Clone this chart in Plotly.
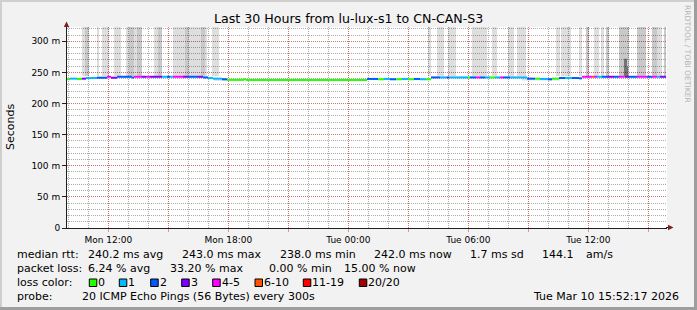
import pandas as pd
import plotly.graph_objects as go

# ---------------- data ----------------
T0 = pd.Timestamp("2026-03-09 09:56")   # left edge of the graph
SPAN_H = 30                               # "Last 30 Hours"

# median RTT segments: end minute (offset from T0), median (ms), loss class index
seg_end = [9, 30, 45, 57, 90, 120, 132, 150, 195, 201, 225, 237, 249, 285, 300, 309, 318,
           348, 363, 393, 408, 423, 438, 465, 480, 531, 537, 900, 933, 951, 969, 987, 1005,
           1023, 1041, 1059, 1077, 1092, 1119, 1140, 1146, 1203, 1209, 1227, 1239, 1254,
           1269, 1284, 1299, 1308, 1329, 1380, 1404, 1419, 1443, 1455, 1476, 1494, 1515,
           1536, 1545, 1575, 1581, 1590, 1605, 1620, 1641, 1656, 1671, 1674, 1686, 1710,
           1740, 1755, 1770, 1779, 1797]
seg_val = [239.0, 240.0, 239.5, 240.0, 241.0, 241.5, 243.0, 241.5, 243.0, 242.0, 243.0, 243.0,
           243.0, 243.0, 243.0, 243.0, 243.0, 243.0, 243.0, 243.0, 243.0, 242.0, 241.0, 240.0,
           239.0, 238.0, 239.0, 238.0, 239.5, 239.0, 239.5, 239.0, 239.0, 239.5, 239.0, 239.5,
           239.0, 239.0, 242.0, 242.0, 242.0, 242.0, 242.0, 242.0, 242.0, 242.0, 242.0, 242.0,
           242.0, 242.0, 242.0, 242.0, 240.0, 240.0, 239.5, 239.0, 240.0, 241.0, 241.0, 241.0,
           240.5, 243.0, 243.0, 243.0, 243.0, 243.0, 243.0, 243.0, 243.0, 243.0, 243.0, 243.0,
           243.0, 243.0, 243.0, 243.0, 243.0]
seg_loss = [0, 1, 0, 3, 1, 2, 4, 3, 2, 2, 4, 3, 4, 3, 1, 2, 1, 4, 3, 2, 3, 2, 1, 1, 2, 0, 0,
            0, 2, 0, 1, 2, 0, 1, 0, 2, 1, 0, 2, 1, 3, 1, 0, 2, 4, 2, 1, 0, 1, 4, 2, 1, 2, 0,
            1, 2, 0, 2, 1, 2, 2, 4, 5, 4, 1, 2, 3, 2, 4, 5, 3, 2, 4, 2, 4, 1, 3]

# smoke (spread of individual pings): start/end minute, low/high ms, density level
smoke_start = [45, 54, 90, 105, 141, 177, 186, 201, 210, 261, 273, 318, 354, 366, 402, 414,
               435, 1083, 1110, 1143, 1215, 1275, 1323, 1350, 1467, 1482, 1536, 1557, 1581,
               1602, 1617, 1656, 1710, 1755, 1770, 1791, 1671, 1680, 441, 1365]
smoke_end = [54, 66, 96, 126, 162, 186, 201, 210, 225, 273, 285, 354, 366, 402, 414, 420,
             456, 1092, 1131, 1167, 1260, 1290, 1341, 1377, 1479, 1512, 1545, 1566, 1596,
             1611, 1626, 1686, 1737, 1770, 1785, 1797, 1680, 1683, 483, 1479]
smoke_lo = [244] * 36 + [244, 244, 236.5, 237.0]
smoke_hi = [400] * 36 + [272, 259, 240.5, 240.0]
smoke_level = [1, 2, 1, 1, 1, 1, 2, 1, 2, 1, 2, 1, 2, 1, 2, 1, 1, 1, 1, 1, 1, 1, 1, 1, 1,
               1, 1, 2, 1, 1, 2, 2, 2, 2, 1, 2, 3, 3, 1, 1]

loss_labels = ["0", "1", "2", "3", "4-5", "6-10", "11-19", "20/20"]
loss_colors = ["#26ff00", "#00b8ff", "#0059ff", "#7e00ff", "#ff00ff", "#ff5500", "#ff0000", "#a10000"]

y_ticks = [0, 50, 100, 150, 200, 250, 300]
y_ticktext = ["0", "50 m", "100 m", "150 m", "200 m", "250 m", "300 m"]
x_ticks = pd.date_range("2026-03-09 12:00", "2026-03-10 15:00", freq="3h")
x_ticktext = ["Mon 12:00", "", "Mon 18:00", "", "Tue 00:00", "", "Tue 06:00", "", "Tue 12:00", ""]

rtt_label = "median rtt:"
rtt_stats = ["240.2 ms avg", "243.0 ms max", "238.0 ms min", "242.0 ms now", "1.7 ms sd", "144.1", "am/s"]
loss_label = "packet loss:"
loss_stats = ["6.24 % avg", "33.20 % max", "0.00 % min", "15.00 % now"]
probe_text = "20 ICMP Echo Pings (56 Bytes) every 300s"
stamp_text = "Tue Mar 10 15:52:17 2026"
title_text = "Last 30 Hours from lu-lux-s1 to CN-CAN-S3"

# ---------------- geometry / style ----------------
W_PX, H_PX = 697, 310
L, T, PW, PH = 67, 27, 600, 201
FONT = "DejaVu Sans"


def px(x):
    return (x - L) / PW


def py(y):
    return (T + PH - y) / PH


def tmin(m):
    return T0 + pd.Timedelta(minutes=m)


fig = go.Figure()

# smoke bars
level_col = {1: "rgba(0,0,0,0.13)", 2: "rgba(0,0,0,0.21)", 3: "rgba(0,0,0,0.42)"}
fig.add_trace(go.Bar(
    x=[tmin((s + e) / 2) for s, e in zip(smoke_start, smoke_end)],
    y=[h - l for l, h in zip(smoke_lo, smoke_hi)],
    base=smoke_lo,
    width=[(e - s) * 60000 for s, e in zip(smoke_start, smoke_end)],
    marker=dict(color=[level_col[v] for v in smoke_level], line=dict(width=0)),
    hoverinfo="skip", showlegend=False,
))

# median line, coloured by loss
seg_start = [0] + seg_end[:-1]
for k, col in enumerate(loss_colors):
    xs, ys = [], []
    for s, e, v, lc in zip(seg_start, seg_end, seg_val, seg_loss):
        if lc == k:
            xs += [tmin(s), tmin(e), None]
            ys += [v, v, None]
    if xs:
        fig.add_trace(go.Scatter(x=xs, y=ys, mode="lines", line=dict(color=col, width=2),
                                 hoverinfo="skip", showlegend=False))

grid_minor = "rgba(143,143,143,0.75)"
grid_major = "rgba(222,79,79,0.6)"

fig.update_layout(
    width=W_PX, height=H_PX,
    margin=dict(l=L, r=W_PX - L - PW, t=T, b=H_PX - T - PH, pad=0),
    paper_bgcolor="#f2f2f2", plot_bgcolor="#ffffff",
    barmode="overlay", showlegend=False,
    font=dict(family=FONT, size=9, color="#000000"),
    xaxis=dict(
        type="date",
        range=[T0, T0 + pd.Timedelta(hours=SPAN_H)],
        tickmode="array", tickvals=list(x_ticks), ticktext=x_ticktext,
        ticks="outside", ticklen=3, tickcolor=grid_major, tickwidth=1,
        showgrid=True, gridcolor=grid_major, griddash="1px,1px", gridwidth=1,
        minor=dict(tickmode="linear", tick0="2026-03-09 00:00", dtick=3600000,
                   showgrid=True, gridcolor=grid_minor, griddash="1px,1px", ticks=""),
        showline=True, linecolor="#1f1f1f", linewidth=1, zeroline=False,
        tickfont=dict(size=9, family=FONT), fixedrange=True,
    ),
    yaxis=dict(
        range=[0, 323],
        tickmode="array", tickvals=y_ticks, ticktext=y_ticktext,
        ticks="outside", ticklen=4, tickcolor="#1f1f1f", tickwidth=1,
        showgrid=True, gridcolor=grid_major, griddash="1px,1px", gridwidth=1,
        minor=dict(tickmode="linear", tick0=0, dtick=10, showgrid=True,
                   gridcolor=grid_minor, griddash="1px,1px", ticks=""),
        showline=True, linecolor="#1f1f1f", linewidth=1, zeroline=False,
        tickfont=dict(size=9, family=FONT), fixedrange=True,
    ),
)

shapes = []
# 3D frame
shapes.append(dict(type="rect", xref="paper", yref="paper", x0=px(0), x1=px(W_PX), y0=py(2), y1=py(0),
                   fillcolor="#cfcfcf", line=dict(width=0), layer="below"))
shapes.append(dict(type="rect", xref="paper", yref="paper", x0=px(0), x1=px(2), y0=py(H_PX), y1=py(0),
                   fillcolor="#cfcfcf", line=dict(width=0), layer="below"))
shapes.append(dict(type="rect", xref="paper", yref="paper", x0=px(0), x1=px(W_PX), y0=py(H_PX), y1=py(H_PX - 3),
                   fillcolor="#9e9e9e", line=dict(width=0), layer="below"))
shapes.append(dict(type="rect", xref="paper", yref="paper", x0=px(W_PX - 3), x1=px(W_PX), y0=py(H_PX), y1=py(0),
                   fillcolor="#9e9e9e", line=dict(width=0), layer="below"))
# axis extensions + arrows
shapes.append(dict(type="line", xref="paper", yref="paper", x0=px(66.5), x1=px(66.5), y0=py(T + 1), y1=py(24),
                   line=dict(color="#1f1f1f", width=1)))
shapes.append(dict(type="line", xref="paper", yref="paper", x0=px(L + PW - 1), x1=px(670), y0=py(T + PH - 0.5), y1=py(T + PH - 0.5),
                   line=dict(color="#1f1f1f", width=1)))


def tri(pts):
    return "M " + " L ".join(f"{px(a)},{py(b)}" for a, b in pts) + " Z"


shapes.append(dict(type="path", xref="paper", yref="paper", path=tri([(66.5, 21.5), (63.8, 27), (69.2, 27)]),
                   fillcolor="#801f1f", line=dict(width=0)))
shapes.append(dict(type="path", xref="paper", yref="paper", path=tri([(673.5, 227.5), (668, 224.8), (668, 230.2)]),
                   fillcolor="#801f1f", line=dict(width=0)))

ann = []


def text(x, y, s, size=11, xanchor="left", color="#000000", angle=0):
    ann.append(dict(xref="paper", yref="paper", x=px(x), y=py(y), text=s, showarrow=False,
                    xanchor=xanchor, yanchor="middle", textangle=angle, borderpad=0,
                    font=dict(family=FONT, size=size, color=color)))


text(348.7, 19, title_text, size=12.6, xanchor="center")
text(11, 127, "Seconds", size=11, xanchor="center", angle=-90)
text(688, 54, "RRDTOOL / TOBI OETIKER", size=7.6, xanchor="center", color="#b4b4b4", angle=90)

# legend rows
row1_x = [87.3, 181, 278.5, 373.3, 469.3, 541, 585]
text(16, 254, rtt_label)
for x, s in zip(row1_x, rtt_stats):
    text(x, 254, s)
row2_x = [87.3, 168.7, 268, 342.7]
text(16, 268, loss_label)
for x, s in zip(row2_x, loss_stats):
    text(x, 268, s)
text(16, 282, "loss color:")
sw_x = [89.3, 119.3, 150.7, 181.7, 212.7, 255, 303.3, 359.3]
for x, lab, col in zip(sw_x, loss_labels, loss_colors):
    shapes.append(dict(type="rect", xref="paper", yref="paper", x0=px(x), x1=px(x + 7.5),
                       y0=py(286.5), y1=py(279), fillcolor=col, line=dict(color="#000000", width=1)))
    text(x + 8, 282, lab)
text(16, 296, "probe:")
text(80.7, 296, probe_text)
text(680, 296, stamp_text, xanchor="right")

fig.update_layout(shapes=shapes, annotations=ann)
fig.write_html("out.html")
